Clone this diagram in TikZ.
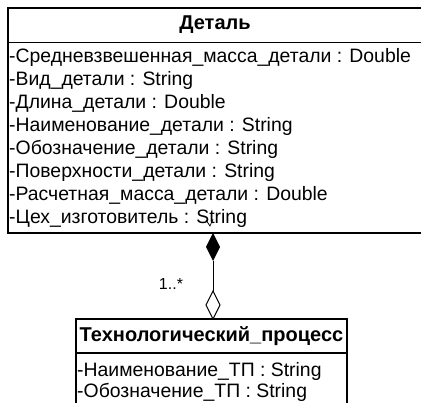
\documentclass[tikz,border=0pt]{standalone}
\usepackage{fontspec}
\setmainfont{Liberation Sans}
\begin{document}
\begin{tikzpicture}[x=1pt,y=-1pt,
  box/.style={draw,line width=1.2pt},
  head/.style={font=\fontsize{20}{24}\selectfont\bfseries,anchor=center,inner sep=0},
  attr/.style={font=\fontsize{19.4}{23}\selectfont,anchor=west,inner sep=0},
  mult/.style={font=\fontsize{16}{19}\selectfont,inner sep=0}]
\useasboundingbox (0,0) rectangle (421,403);
\begin{scope}
\clip (0,0) rectangle (421,403);
% class Деталь
\draw[box] (8,8) rectangle (425,233);
\draw[box] (8,42.5) -- (425,42.5);
\node[head] (detal) at (215,25) {Деталь};
\node[attr] (a1) at (9,57)  {-Средневзвешенная\_масса\_детали : Double};
\node[attr] (a2) at (9,80)  {-Вид\_детали : String};
\node[attr] (a3) at (9,103) {-Длина\_детали : Double};
\node[attr] (a4) at (9,126) {-Наименование\_детали : String};
\node[attr] (a5) at (9,149) {-Обозначение\_детали : String};
\node[attr] (a6) at (9,172) {-Поверхности\_детали : String};
\node[attr] (a7) at (9,195) {-Расчетная\_масса\_детали : Double};
\node[attr] (a8) at (9,218) {-Цех\_изготовитель : String};
% class Технологический_процесс
\draw[box] (76,319) rectangle (347,410);
\draw[box] (76,353) -- (347,353);
\node[head] (tp) at (211.5,336) {Технологический\_процесс};
\node[attr] (b1) at (77,371) {-Наименование\_ТП : String};
\node[attr] (b2) at (77,392) {-Обозначение\_ТП : String};
\end{scope}
% association: composition at Деталь, aggregation at Технологический_процесс
\coordinate (ctop) at (213,233);
\coordinate (cbot) at (213,261);
\coordinate (htop) at (213,291);
\coordinate (hbot) at (213,319);
\fill (ctop) -- (220,247) -- (cbot) -- (206,247) -- cycle;
\draw[line width=0.9pt] (cbot) -- (htop);
\draw[line width=0.9pt,fill=white] (htop) -- (220,305) -- (hbot) -- (206,305) -- cycle;
\node[mult] (m) at (171,284) {1..*};
% small navigability stroke on the end of the line
\draw[line width=0.7pt] (206,220) -- (210,226) -- (213,219);
\end{tikzpicture}
\end{document}
